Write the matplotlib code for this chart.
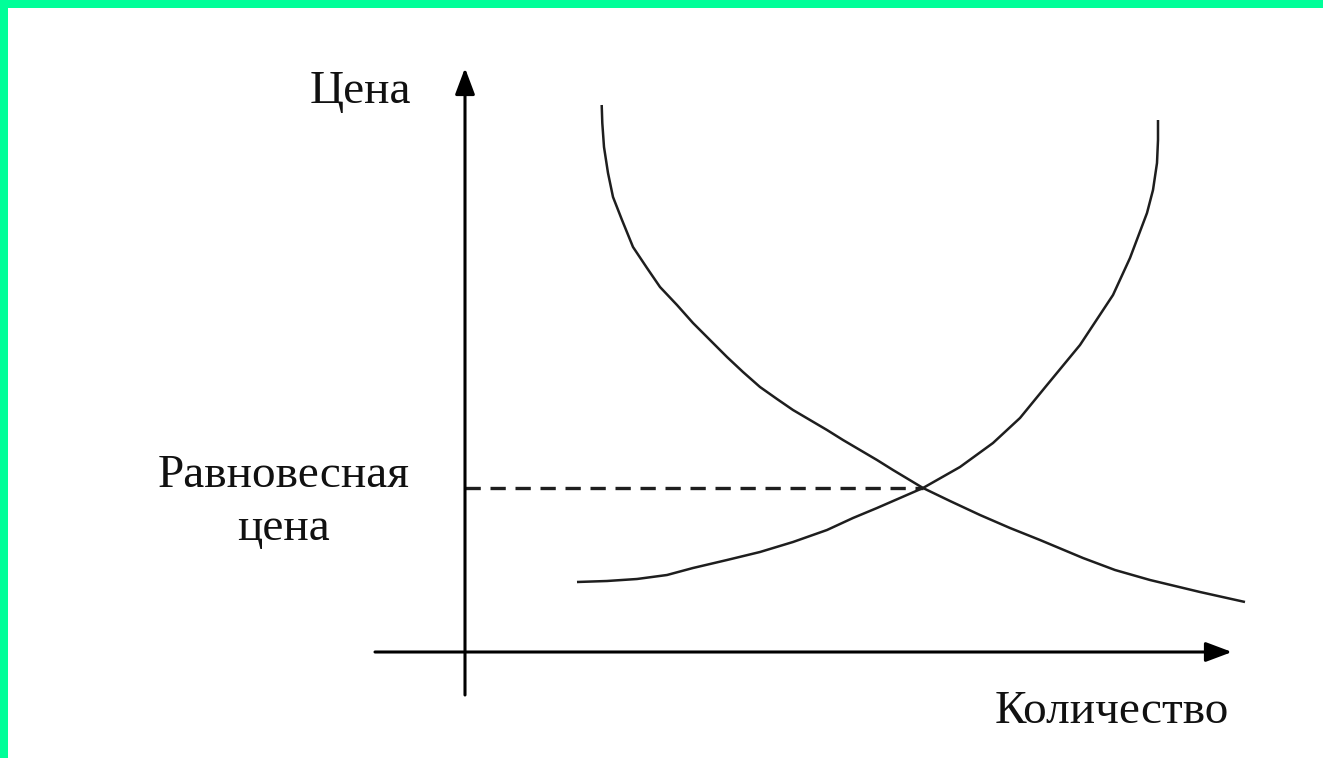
# Равновесная цена: кривые спроса и предложения

from matplotlib import pyplot as plt
from matplotlib.patches import Rectangle

plt.rcParams['lines.scale_dashes'] = False

# Кривая спроса (количество, цена)
demand_q = [13.67, 13.73, 13.9, 14.3, 14.8, 15.7, 16.8, 18.2, 19.5, 21.2, 22.8,
            24.5, 26.2, 27.8, 29.5, 31.2, 32.8, 34.5, 36.2, 37.8, 39.5, 41.2,
            42.8, 44.3, 45.8, 48.5, 51.5, 54.5, 57.5, 61.8, 65.0, 68.5, 73.5, 78.0]
demand_p = [54.7, 52.9, 50.5, 47.9, 45.5, 43.2, 40.5, 38.4, 36.5, 34.7, 32.9,
            31.2, 29.5, 28.0, 26.5, 25.3, 24.2, 23.2, 22.2, 21.2, 20.2, 19.2,
            18.2, 17.3, 16.4, 15.1, 13.7, 12.4, 11.2, 9.4, 8.2, 7.2, 6.0, 5.0]

# Кривая предложения
supply_q = [11.2, 14.2, 17.2, 20.2, 22.8, 26.2, 29.5, 32.8, 36.2, 38.8, 41.2,
            43.5, 45.8, 49.5, 52.8, 55.5, 58.2, 61.5, 64.8, 66.5, 68.2, 68.8,
            69.2, 69.3, 69.3]
supply_p = [7.0, 7.1, 7.3, 7.7, 8.4, 9.2, 10.0, 11.0, 12.2, 13.4, 14.4,
            15.4, 16.4, 18.5, 20.9, 23.4, 26.7, 30.7, 35.7, 39.4, 43.9, 46.2,
            48.9, 51.2, 53.2]

# Точка равновесия
eq_q = 45.8
eq_p = 16.4

# Концы осей
x_axis = (-9.0, 76.7)
y_axis = (-4.3, 58.4)

fig = plt.figure(figsize=(13.23, 7.58), dpi=100)
fig.patch.set_facecolor('white')
ax = fig.add_axes([0, 0, 1, 1])
ax.set_xlim(-46.5, 85.8)
ax.set_ylim(-10.6, 65.2)
ax.axis('off')

# зелёная рамка сверху и слева
fig.patches.append(Rectangle((0, 1 - 8 / 758), 1, 8 / 758, transform=fig.transFigure,
                             facecolor='#00FF99', edgecolor='none', zorder=10))
fig.patches.append(Rectangle((0, 0), 8 / 1323, 1, transform=fig.transFigure,
                             facecolor='#00FF99', edgecolor='none', zorder=10))

arrow = dict(arrowstyle='-|>,head_length=0.8,head_width=0.3', lw=2.2, color='black',
             mutation_scale=20, shrinkA=0, shrinkB=0)
ax.annotate('', xy=(0, y_axis[1]), xytext=(0, y_axis[0]), arrowprops=arrow)
ax.annotate('', xy=(x_axis[1], 0), xytext=(x_axis[0], 0), arrowprops=arrow)

ax.plot(demand_q, demand_p, color='#1e1e1e', lw=1.8, solid_capstyle='butt',
        solid_joinstyle='round')
ax.plot(supply_q, supply_p, color='#1e1e1e', lw=1.8, solid_capstyle='butt',
        solid_joinstyle='round')
ax.plot([0, eq_q], [eq_p, eq_p], color='#1e1e1e', lw=2.4, dashes=(11, 7))

font = dict(family='Liberation Serif', fontsize=34, color='#111111')
ax.text(-10.5, 54.9, 'Цена', ha='center', va='baseline', **font)
ax.text(-18.1, 16.5, 'Равновесная', ha='center', va='baseline', **font)
ax.text(-18.1, 11.2, 'цена', ha='center', va='baseline', **font)
ax.text(64.7, -7.1, 'Количество', ha='center', va='baseline', **font)

fig.savefig('out.png', dpi=100)
